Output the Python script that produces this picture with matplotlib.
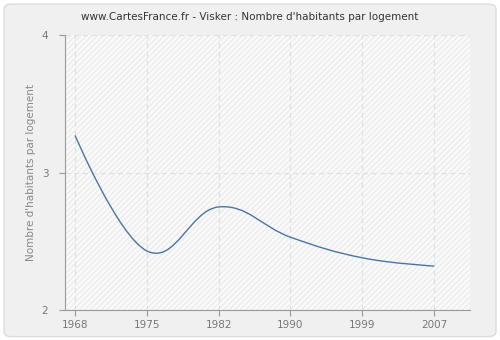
import numpy as np
import matplotlib.pyplot as plt
from matplotlib.path import Path
from matplotlib.patches import PathPatch, FancyBboxPatch, Rectangle

# Données
annees = ["1968", "1975", "1982", "1990", "1999", "2007"]
habitants = [3.27, 2.43, 2.75, 2.53, 2.38, 2.32]
y_ticks = [2, 3, 4]


def spline_path(xs, ys, lissage=1.5):
    """Courbe de Bézier passant par les points (style spline)."""
    n = len(xs)
    denom = lissage + 1
    ctrl = []
    for i in range(n):
        x, y = xs[i], ys[i]
        if 0 < i < n - 1:
            lx = (lissage * x + xs[i - 1]) / denom
            ly = (lissage * y + ys[i - 1]) / denom
            rx = (lissage * x + xs[i + 1]) / denom
            ry = (lissage * y + ys[i + 1]) / denom
            corr = (ry - ly) * (rx - x) / (rx - lx) + y - ry
            ly += corr
            ry += corr
        else:
            lx, ly, rx, ry = x, y, x, y
        ctrl.append((lx, ly, rx, ry))
    verts = [(xs[0], ys[0])]
    codes = [Path.MOVETO]
    for i in range(1, n):
        verts += [(ctrl[i - 1][2], ctrl[i - 1][3]), (ctrl[i][0], ctrl[i][1]), (xs[i], ys[i])]
        codes += [Path.CURVE4] * 3
    return Path(verts, codes)


fig = plt.figure(figsize=(5, 3.4), dpi=100)
fig.patch.set_facecolor("#ffffff")
fig.patches.append(FancyBboxPatch((0.008, 0.01), 0.984, 0.978,
                                  boxstyle="round,pad=0,rounding_size=0.015",
                                  transform=fig.transFigure, facecolor="#f0f0f0",
                                  edgecolor="#dcdcdc", linewidth=1, zorder=-10))

ax = fig.add_axes([0.13, 0.088, 0.81, 0.809])
ax.set_facecolor("#fafafa")
ax.add_patch(Rectangle((0, 0), 1, 1, transform=ax.transAxes, facecolor="none",
                       edgecolor="#ececec", hatch="//////", linewidth=0, zorder=0))

x = np.arange(len(annees))
ax.add_patch(PathPatch(spline_path(list(x), habitants), facecolor="none",
                       edgecolor="#4a74a8", linewidth=1, zorder=3))

ax.set_xlim(-0.14, 5.5)
ax.set_ylim(2, 4)
ax.set_xticks(x)
ax.set_xticklabels(annees)
ax.set_yticks(y_ticks)
ax.grid(True, color="#e0e0e0", linestyle=(0, (4, 3)), linewidth=0.9)
ax.set_axisbelow(True)

for s in ["top", "right"]:
    ax.spines[s].set_visible(False)
for s in ["left", "bottom"]:
    ax.spines[s].set_color("#999999")
ax.tick_params(colors="#999999", labelcolor="#777777", labelsize=7.5, length=4)
ax.tick_params(axis="y", pad=8)

ax.set_ylabel("Nombre d'habitants par logement", fontsize=7.5, color="#888888")
fig.text(0.5, 0.95, "www.CartesFrance.fr - Visker : Nombre d'habitants par logement",
         ha="center", va="center", fontsize=7.5, color="#333333")

fig.savefig("out.png", dpi=100, facecolor=fig.get_facecolor())
